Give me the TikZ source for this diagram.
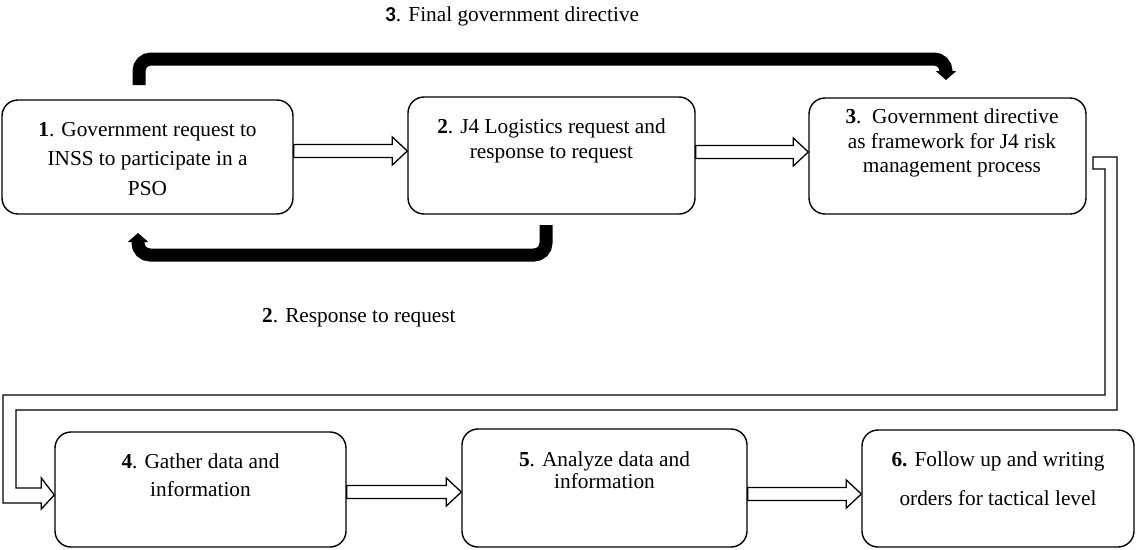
\documentclass[tikz,border=0pt]{standalone}
\usepackage{fontspec}
\setmainfont{Liberation Serif}
\newfontfamily\headsans{Carlito}
\usetikzlibrary{arrows.meta,calc}

% hollow block arrow between two boxes: #1 from node, #2 to node, #3 height of the axis
\newcommand\hollowarrow[3]{%
  \draw[hollow] let \p1=(#1.east), \p2=(#2.west) in
    (\x1,{6.5pt-#3pt}) -- ({\x2-15pt},{6.5pt-#3pt}) -- ({\x2-15pt},{14pt-#3pt})
    -- (\x2,{-#3pt}) -- ({\x2-15pt},{-14pt-#3pt}) -- ({\x2-15pt},{-6.5pt-#3pt})
    -- (\x1,{-6.5pt-#3pt}) -- cycle;}

\begin{document}
\begin{tikzpicture}[x=1pt,y=-1pt,
  box/.style={draw, line width=1.4pt, rounded corners=16pt, inner sep=0pt},
  txt/.style={inner sep=0pt, align=center, anchor=north},
  hollow/.style={draw, line width=1.3pt, fill=white, line join=miter},
  flow/.style={line width=13pt, rounded corners=12pt, -{Triangle[width=20pt,length=9pt]}},
  lbl/.style={inner sep=0pt, anchor=base west, font=\fontsize{21.3}{25}\selectfont}]
\useasboundingbox (0,0) rectangle (1138,549);

% process boxes
\node[box, minimum width=291pt, minimum height=114pt] (b1) at (147.5,157) {};
\node[box, minimum width=287pt, minimum height=117pt] (b2) at (551.5,155.5) {};
\node[box, minimum width=277pt, minimum height=116pt] (b3) at (947.5,156) {};
\node[box, minimum width=291pt, minimum height=115pt] (b4) at (200.5,489.5) {};
\node[box, minimum width=285pt, minimum height=118pt] (b5) at (604.5,488) {};
\node[box, minimum width=272pt, minimum height=117pt] (b6) at (998,488.5) {};

% box texts
\node[txt, font=\fontsize{21.3}{29.5}\selectfont] (t1) at (147.5,122)
  {\textbf{1}. Government request to\\INSS to participate in a\\PSO};
\node[txt, font=\fontsize{21.3}{25}\selectfont] (t2) at (551.5,118.5)
  {\textbf{2}. J4 Logistics request and\\response to request};
\node[txt, font=\fontsize{21.3}{24.5}\selectfont] (t3) at (952,109)
  {\textbf{3}.\ \ Government directive\\as framework for J4 risk\\management process};
\node[txt, font=\fontsize{21.3}{28}\selectfont] (t4) at (200.5,454)
  {\textbf{4}. Gather data and\\information};
\node[txt, font=\fontsize{21.3}{22}\selectfont] (t5) at (604.5,452)
  {\textbf{5}. Analyze data and\\information};
\node[txt, font=\fontsize{21.3}{39}\selectfont] (t6) at (998,452)
  {\textbf{6.} Follow up and writing\\orders for tactical level};

% labels of the feedback arrows
\node[lbl] (ttl) at (385,21) {{\headsans\bfseries 3}. Final government directive};
\node[lbl] (lab2) at (262,322) {\textbf{2}. Response to request};

% hollow arrows between consecutive boxes
\hollowarrow{b1}{b2}{151}
\hollowarrow{b2}{b3}{152}
\hollowarrow{b4}{b5}{492}
\hollowarrow{b5}{b6}{494}

% long elbow arrow from box 3 down to box 4
\draw[hollow] let \p2=(b4.west) in
  (1093,157) -- (1117,157) -- (1117,410) -- (16,410) -- (16,488)
  -- ({\x2-13pt},-488pt) -- ({\x2-13pt},-478pt) -- (\x2,-495pt)
  -- ({\x2-13pt},-509pt) -- ({\x2-13pt},-503pt) -- (3,503) -- (3,395)
  -- (1105,395) -- (1105,169) -- (1093,169) -- cycle;

% thick feedback arrows
\coordinate (f1s) at (139,85);
\coordinate (f1e) at (946,80);
\draw[flow] (f1s) -- (139,59) -- (946,59) -- (f1e);
\coordinate (f2s) at (546,225);
\coordinate (f2e) at (138,233);
\draw[flow] (f2s) -- (546,255) -- (138,255) -- (f2e);
\end{tikzpicture}
\end{document}
